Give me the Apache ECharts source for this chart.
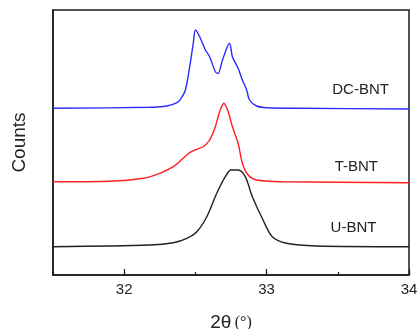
<!DOCTYPE html>
<html><head><meta charset="utf-8">
<script src="https://cdn.jsdelivr.net/npm/echarts@6/dist/echarts.min.js"></script>
<style>html,body{margin:0;padding:0;background:#fff}#c{width:417px;height:329px}</style>
</head><body><div id="c"></div>
<script>
// 2θ positions and offset intensities (arbitrary counts, stacked offsets)
const dcX = [31.5,32.18,32.30,32.37,32.40,32.43,32.46,32.485,32.50,32.53,32.57,32.60,32.64,32.66,32.69,32.74,32.76,32.80,32.83,32.86,32.88,32.93,33.00,33.23,34.0];
const dcY = [166.7,167.7,169,172.3,176.7,185,208.3,231.7,245,238.3,225,218.3,203.3,201.7,215,231.7,218.3,206.7,195,185,175,169,167.3,166.7,166];
const tX = [31.5,31.9,32.135,32.25,32.345,32.415,32.46,32.51,32.555,32.60,32.64,32.67,32.70,32.73,32.76,32.80,32.83,32.87,32.93,33.11,34.0];
const tY = [93.3,93.8,96.7,101.7,108.3,116.7,122.3,125.7,128.3,135,148.3,163.3,171.7,163.3,148.3,131.7,111.7,100,95,93.3,92.3];
const uX = [31.5,32.18,32.345,32.44,32.51,32.58,32.65,32.71,32.75,32.80,32.85,32.90,32.975,33.04,33.14,33.35,34.0];
const uY = [28.3,30,32.3,36.7,43.3,58.3,81.7,98.3,105,105,98.3,78.3,55,38.3,31.7,29,28.3];
const names = ['DC-BNT','T-BNT','U-BNT'];
const labelPos = [[33.66,185],[33.63,108],[33.61,47]];
const majorTicks = [32,33,34];

const zip = (a,b)=>a.map((v,i)=>[v,b[i]]);
const colors = ['#2b2bff','#ff2020','#222222'];
const datas = [zip(dcX,dcY), zip(tX,tY), zip(uX,uY)];
const FONT = 'Liberation Sans, Arial';

const chart = echarts.init(document.getElementById('c'));
chart.setOption({
  backgroundColor:'#ffffff',
  animation:false,
  grid:{left:53,right:8,top:10,bottom:54,outerBoundsMode:'none',containLabel:false,show:true,borderColor:'#1a1a1a',borderWidth:1.5,backgroundColor:'transparent'},
  xAxis:[{
    type:'value',min:31.5,max:34,interval:0.5,
    axisLine:{show:true,lineStyle:{color:'#1a1a1a',width:1.5}},
    axisTick:{show:true,inside:true,length:3,lineStyle:{color:'#1a1a1a',width:1.2}},
    axisLabel:{customValues:majorTicks,color:'#222',fontFamily:FONT,fontSize:15,margin:7},
    splitLine:{show:false},
    name:'{a|2θ} {b|(°)}',nameLocation:'middle',nameGap:38,
    nameTextStyle:{rich:{a:{fontFamily:FONT,fontSize:19,color:'#222'},b:{fontFamily:'Liberation Serif, Times New Roman',fontSize:16,color:'#222'}}}
  },{
    type:'value',min:31.5,max:34,interval:0.5,position:'bottom',
    axisLine:{show:false},
    axisTick:{show:true,inside:true,length:6,customValues:majorTicks,lineStyle:{color:'#1a1a1a',width:1.2}},
    axisLabel:{show:false},splitLine:{show:false}
  }],
  yAxis:{
    type:'value',min:0,max:265,
    axisLine:{show:true,lineStyle:{color:'#1a1a1a',width:1.5}},
    axisTick:{show:false},axisLabel:{show:false},splitLine:{show:false},
    name:'Counts',nameLocation:'middle',nameGap:24,nameRotate:90,
    nameTextStyle:{fontFamily:FONT,fontSize:19,color:'#222'}
  },
  series: names.map((n,i)=>({
    name:n,type:'line',data:datas[i],showSymbol:false,smooth:0.3,
    lineStyle:{color:colors[i],width:1.4},
    markPoint:{symbol:'circle',symbolSize:0,
      data:[{coord:labelPos[i],value:n}],
      label:{show:true,position:'inside',formatter:n,color:'#222',fontFamily:FONT,fontSize:15}}
  }))
});
</script></body></html>
